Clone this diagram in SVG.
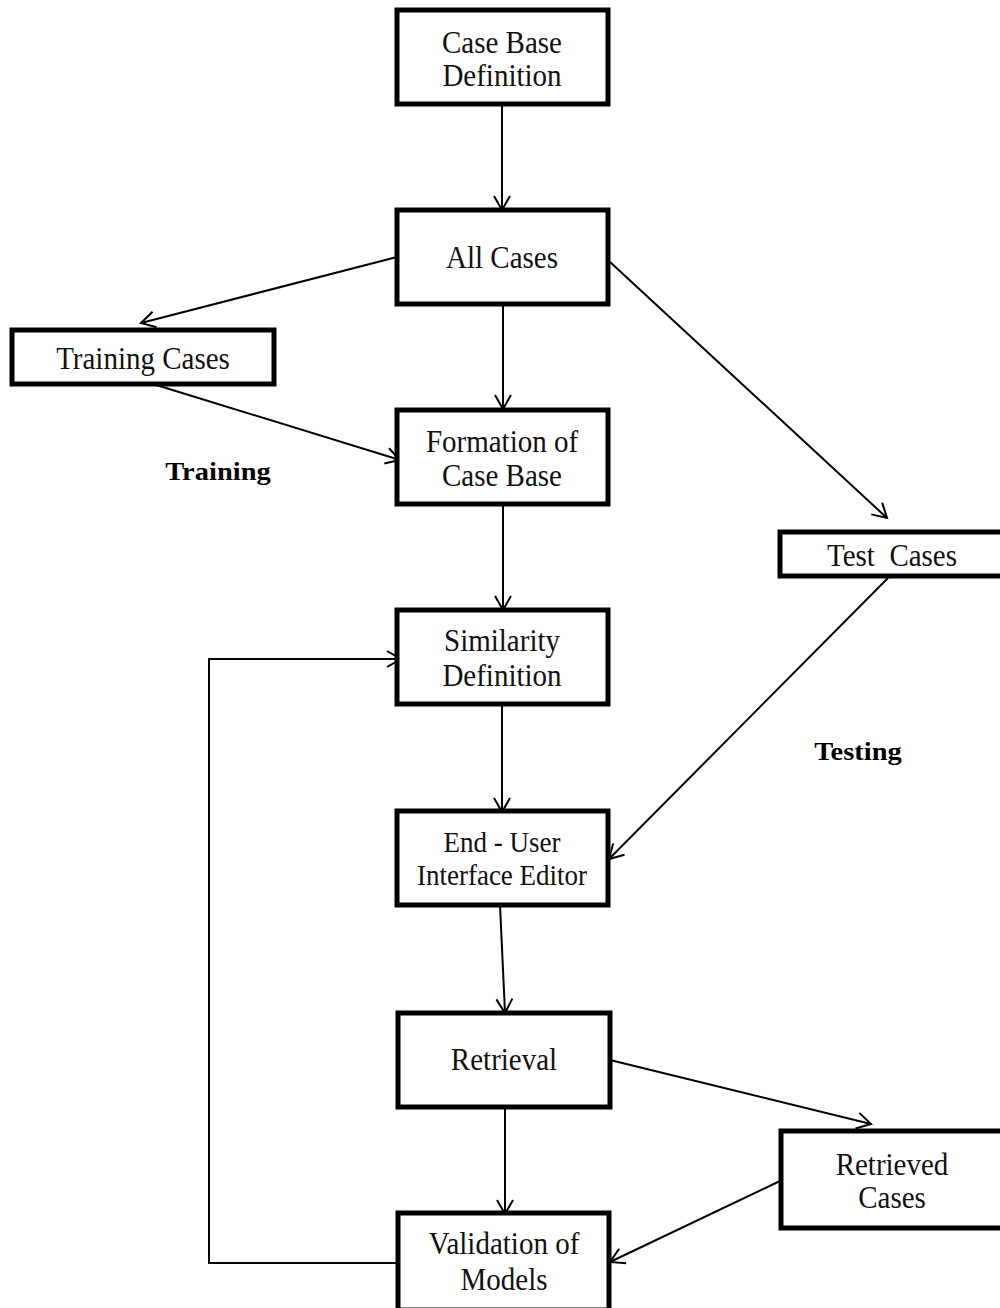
<svg xmlns="http://www.w3.org/2000/svg" width="1000" height="1308" viewBox="0 0 1000 1308">
<style>
.box{fill:#fff;stroke:#000;stroke-width:5}
.t{font-family:"Liberation Serif",serif;font-size:29px;fill:#111;text-anchor:middle;white-space:pre}
.s{font-size:27px}
.b{font-family:"Liberation Serif",serif;font-size:28.5px;font-weight:bold;fill:#000;text-anchor:middle}
.c{stroke:#000;stroke-width:2;fill:none;marker-end:url(#ah)}
</style>
<defs>
<marker id="ah" markerUnits="userSpaceOnUse" markerWidth="20" markerHeight="20" refX="15" refY="9" orient="auto">
<path d="M1,1 L15,9 L1,17" fill="none" stroke="#000" stroke-width="2"/>
</marker>
</defs>
<rect width="1000" height="1308" fill="#fff"/>
<g id="connectors">
<line class="c" x1="502" y1="104" x2="502" y2="210"/>
<line class="c" x1="397" y1="257" x2="141" y2="323"/>
<line class="c" x1="153" y1="384" x2="400" y2="460"/>
<line class="c" x1="503" y1="304" x2="503" y2="409"/>
<line class="c" x1="610" y1="262" x2="887" y2="518"/>
<line class="c" x1="503" y1="504" x2="503" y2="610"/>
<line class="c" x1="888" y1="578" x2="609" y2="859"/>
<line class="c" x1="502" y1="704" x2="502" y2="812"/>
<line class="c" x1="500" y1="905" x2="505" y2="1013"/>
<line class="c" x1="610" y1="1060" x2="871" y2="1124"/>
<line class="c" x1="505" y1="1105" x2="505" y2="1214"/>
<line class="c" x1="780" y1="1181" x2="610" y2="1262"/>
<polyline class="c" points="397,1263 209,1263 209,659 401,659"/>
</g>
<g id="n1"><rect class="box" x="397" y="10" width="211" height="94"/><text class="t" transform="translate(502,53) scale(1,1.08)">Case Base</text><text class="t" transform="translate(502,86) scale(1,1.08)">Definition</text></g>
<g id="n2"><rect class="box" x="397" y="210" width="211" height="94"/><text class="t" transform="translate(502,268) scale(1,1.08)">All Cases</text></g>
<g id="n3"><rect class="box" x="12" y="330" width="262" height="54"/><text class="t" transform="translate(143,369) scale(1,1.08)">Training Cases</text></g>
<g id="n4"><rect class="box" x="397" y="410" width="211" height="94"/><text class="t" transform="translate(502,452) scale(1,1.08)">Formation of</text><text class="t" transform="translate(502,486) scale(1,1.08)">Case Base</text></g>
<g id="n5"><rect class="box" x="780" y="532" width="224" height="44"/><text class="t" transform="translate(892,566) scale(1,1.08)">Test  Cases</text></g>
<g id="n6"><rect class="box" x="397" y="610" width="211" height="94"/><text class="t" transform="translate(502,651) scale(1,1.08)">Similarity</text><text class="t" transform="translate(502,686) scale(1,1.08)">Definition</text></g>
<g id="n7"><rect class="box" x="397" y="811" width="211" height="94"/><text class="t s" transform="translate(502,852) scale(1,1.08)">End - User</text><text class="t s" transform="translate(502,885) scale(1,1.08)">Interface Editor</text></g>
<g id="n8"><rect class="box" x="398" y="1013" width="212" height="94"/><text class="t" transform="translate(504,1070) scale(1,1.08)">Retrieval</text></g>
<g id="n9"><rect class="box" x="781" y="1131" width="224" height="97"/><text class="t" transform="translate(892,1175) scale(1,1.08)">Retrieved</text><text class="t" transform="translate(892,1208) scale(1,1.08)">Cases</text></g>
<g id="n10"><rect class="box" x="398" y="1213" width="211" height="97"/><text class="t" transform="translate(504,1254) scale(1,1.08)">Validation of</text><text class="t" transform="translate(504,1290) scale(1,1.08)">Models</text></g>
<g id="labels"><text class="b" transform="translate(218,480) scale(1,0.9)">Training</text><text class="b" transform="translate(858,760) scale(1,0.9)">Testing</text></g>
</svg>
